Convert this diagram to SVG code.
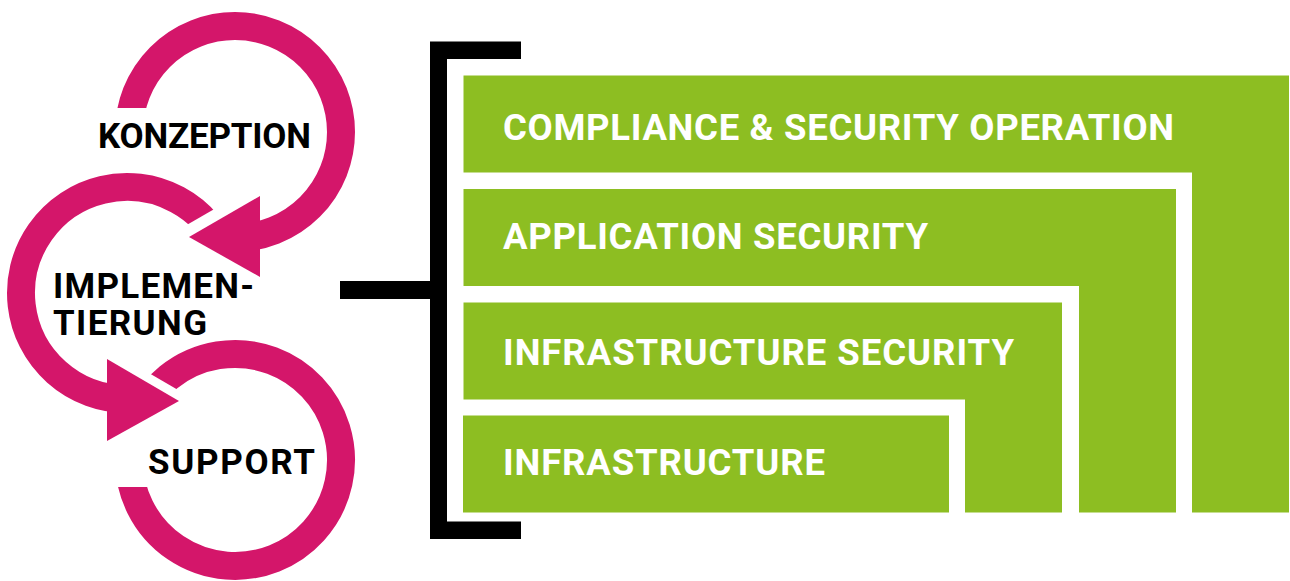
<svg xmlns="http://www.w3.org/2000/svg" width="1290" height="581" viewBox="0 0 1290 581">
  <style>
    .arc { fill: none; stroke: #D4166A; stroke-width: 28; }
    .head { fill: #D4166A; }
    .lbl { font-family: Roboto, "Liberation Sans", sans-serif; font-weight: 700; font-size: 35px; fill: #000; }
    .glbl { font-family: Roboto, "Liberation Sans", sans-serif; font-weight: 700; font-size: 36.5px; fill: #fff; }
    .layer { fill: #8DBE22; }
    .bracket { fill: #000; }
  </style>
  <defs>
    <mask id="mTop" maskUnits="userSpaceOnUse" x="0" y="0" width="1290" height="581">
      <rect x="0" y="0" width="1290" height="581" fill="#fff"/>
      <polygon points="0,108 160,108 160,140 0,140" fill="#000"/>
    </mask>
    <mask id="mMid" maskUnits="userSpaceOnUse" x="0" y="0" width="1290" height="581">
      <rect x="0" y="0" width="1290" height="581" fill="#fff"/>
      <polygon points="165,237.6 300,159.7 300,285 165,285" fill="#000"/>
    </mask>
    <mask id="mBot" maskUnits="userSpaceOnUse" x="0" y="0" width="1290" height="581">
      <rect x="0" y="0" width="1290" height="581" fill="#fff"/>
      <polygon points="90,338.7 200,402.8 200,442 90,442" fill="#000"/>
      <polygon points="0,440 160,440 160,487 0,487" fill="#000"/>
    </mask>
  </defs>

  <g id="konzeption">
    <path class="arc" mask="url(#mTop)" d="M129 132 A106 106 0 1 1 235 238"/>
    <polygon class="head" points="189,237 260,196 260,277"/>
    <text class="lbl" x="98" y="147.5" textLength="213" lengthAdjust="spacing">KONZEPTION</text>
  </g>

  <g id="implementierung">
    <path class="arc" mask="url(#mMid)" d="M226.6 256.7 A106 106 0 1 0 127 399"/>
    <polygon class="head" points="179,401 107,359 107,441"/>
    <text class="lbl" x="53" y="297.5" textLength="201" lengthAdjust="spacing">IMPLEMEN-</text>
    <text class="lbl" x="53" y="334.5" textLength="154" lengthAdjust="spacing">TIERUNG</text>
  </g>

  <g id="support">
    <path class="arc" mask="url(#mBot)" d="M138.9 415.2 A106 106 0 1 1 129 460"/>
    <text class="lbl" x="148" y="473.5" textLength="167" lengthAdjust="spacing">SUPPORT</text>
  </g>

  <g id="connectors">
    <path class="bracket" d="M521 41.5 H430 V539 H521 V521.5 H447 V59 H521 Z"/>
    <rect class="bracket" x="340" y="281" width="90" height="18"/>
  </g>

  <g id="layer-compliance">
    <path class="layer" d="M463.5 75.5 H1289 V512.5 H1192 V172.5 H463.5 Z"/>
    <text class="glbl" x="503" y="139.5" textLength="671" lengthAdjust="spacing">COMPLIANCE &amp; SECURITY OPERATION</text>
  </g>
  <g id="layer-application">
    <path class="layer" d="M463.5 189 H1176 V512.5 H1079 V286 H463.5 Z"/>
    <text class="glbl" x="503" y="249" textLength="425" lengthAdjust="spacing">APPLICATION SECURITY</text>
  </g>
  <g id="layer-infrastructure-security">
    <path class="layer" d="M463.5 302.5 H1062 V512.5 H965 V399.5 H463.5 Z"/>
    <text class="glbl" x="503" y="364.5" textLength="511" lengthAdjust="spacing">INFRASTRUCTURE SECURITY</text>
  </g>
  <g id="layer-infrastructure">
    <rect class="layer" x="463" y="415.5" width="486" height="97"/>
    <text class="glbl" x="503" y="474.5" textLength="322" lengthAdjust="spacing">INFRASTRUCTURE</text>
  </g>
</svg>
